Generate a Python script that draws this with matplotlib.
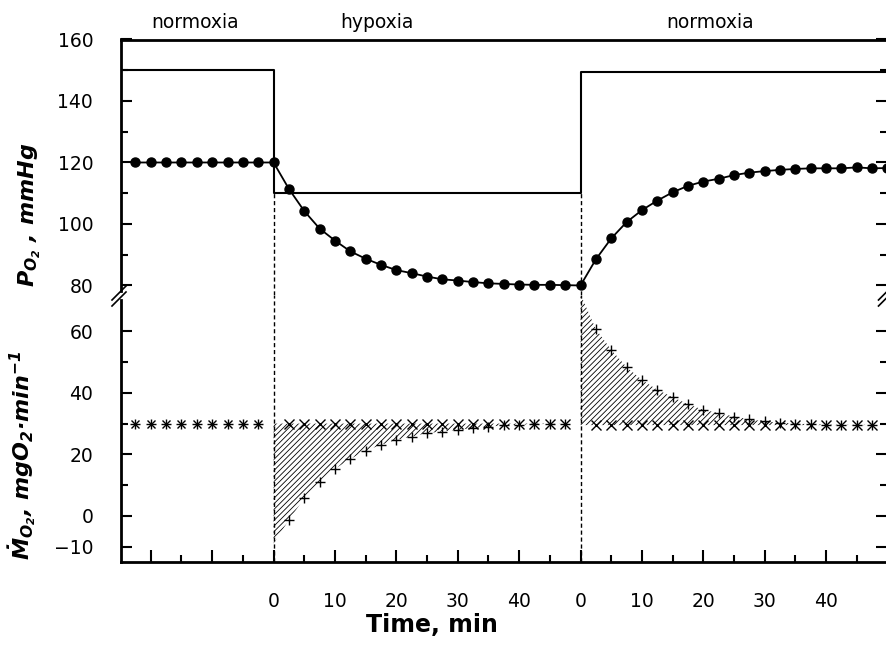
import matplotlib
matplotlib.use("Agg")
import matplotlib.pyplot as plt
import numpy as np
from matplotlib.lines import Line2D
from matplotlib.ticker import FixedLocator, FixedFormatter

# ---------------- data ----------------
phase_names = ["normoxia", "hypoxia", "normoxia"]
phase_label_x = [-12.8, 16.9, 71.1]          # label centres (continuous time axis)
phase_start = [-24.85, 0, 50]                  # start of each phase on the time axis
phase_end = 100
water_po2 = [150, 110, 149.5]                  # ambient PO2 (mmHg) in each phase

# blood PO2 (filled circles)
t_pre = [-22.5, -20, -17.5, -15, -12.5, -10, -7.5, -5, -2.5, 0]
po2_pre = [120, 120, 120, 120, 120, 120, 120, 120, 120, 120]
t_phase = [2.5, 5, 7.5, 10, 12.5, 15, 17.5, 20, 22.5, 25,
           27.5, 30, 32.5, 35, 37.5, 40, 42.5, 45, 47.5, 50]
po2_hyp = [111.4, 104.2, 98.5, 94.6, 91.1, 88.7, 86.7, 85.0, 84.0, 82.9,
           82.0, 81.6, 81.1, 80.7, 80.5, 80.3, 80.2, 80.2, 80.1, 80.0]
po2_rec = [88.5, 95.3, 100.6, 104.5, 107.6, 110.3, 112.4, 113.8, 114.7, 115.9,
           116.7, 117.2, 117.6, 117.9, 118.1, 118.1, 118.1, 118.4, 118.1, 118.2]

# oxygen consumption (+ measured, x routine)
t_mo2_pre = [-22.5, -20, -17.5, -15, -12.5, -10, -7.5, -5, -2.5]
mo2_pre = [30, 30, 30, 30, 30, 30, 30, 30, 30]
t_mo2 = [2.5, 5, 7.5, 10, 12.5, 15, 17.5, 20, 22.5, 25,
         27.5, 30, 32.5, 35, 37.5, 40, 42.5, 45, 47.5]
mo2_hyp_meas = [-1.3, 5.7, 11.0, 15.3, 18.5, 21.2, 23.1, 24.7, 25.8, 26.9,
                27.4, 28.0, 28.5, 29.0, 29.4, 29.6, 29.8, 29.9, 30.0]
mo2_hyp_ref = [30, 30, 30, 30, 30, 30, 30, 30, 30, 30,
               30, 30, 30, 30, 30, 30, 30, 30, 30]
mo2_rec_meas = [60.7, 54.0, 48.4, 44.2, 41.0, 38.6, 36.3, 34.5, 33.4, 32.3,
                31.4, 30.7, 30.3, 30.0, 29.8, 29.7, 29.6, 29.6, 29.6]
mo2_rec_ref = [29.5, 29.5, 29.5, 29.5, 29.5, 29.5, 29.5, 29.5, 29.5, 29.5,
               29.5, 29.5, 29.5, 29.5, 29.5, 29.5, 29.5, 29.5, 29.5]
mo2_hyp_start = -9     # start of measured curve at onset of hypoxia
mo2_rec_start = 72     # start of measured curve at onset of normoxia

po2_yticks = [80, 100, 120, 140, 160]
mo2_yticks = [-10, 0, 20, 40, 60]

# ---------------- style ----------------
plt.rcParams["font.family"] = ["DejaVu Sans"]
plt.rcParams["mathtext.fontset"] = "custom"
plt.rcParams["mathtext.rm"] = "DejaVu Sans:italic:bold"
plt.rcParams["mathtext.it"] = "DejaVu Sans:italic:bold"
plt.rcParams["mathtext.bf"] = "DejaVu Sans:italic:bold"
plt.rcParams["hatch.linewidth"] = 0.6

W_PX, H_PX = 886, 654
fig = plt.figure(figsize=(W_PX / 100, H_PX / 100), dpi=100)

def fx(px):
    return px / W_PX

def fy(py):
    return 1 - py / H_PX

left_px, right_px = 121, 887.5
top_px, brk_px, bot_px = 39.5, 295, 561.7
ax_top = fig.add_axes([fx(left_px), fy(brk_px), fx(right_px - left_px), (brk_px - top_px) / H_PX])
ax_bot = fig.add_axes([fx(left_px), fy(bot_px), fx(right_px - left_px), (bot_px - brk_px) / H_PX])

xlim = (phase_start[0], phase_end)
for ax in (ax_top, ax_bot):
    ax.set_xlim(*xlim)
    ax.patch.set_alpha(0)
ax_top.set_ylim(76.9, 160)
ax_bot.set_ylim(-14.9, 71.8)

# ---------------- top panel: PO2 ----------------
step_x = phase_start + [phase_end]
step_y = water_po2 + [water_po2[-1]]
ax_top.plot(step_x, step_y, drawstyle="steps-post", color="black", lw=1.5)

t_rec_abs = [phase_start[2] + t for t in t_phase]
po2_x = t_pre + t_phase + t_rec_abs
po2_y = po2_pre + po2_hyp + po2_rec
ax_top.plot(po2_x, po2_y, color="black", lw=1.3, marker="o", ms=6.5)

# dashed verticals at phase changes
dash = (0, (3, 2))
ax_top.vlines([phase_start[1], phase_start[2]], 76.9, [water_po2[1], water_po2[1]],
              colors="black", lw=1.0, linestyles=[dash])
ax_bot.vlines([phase_start[1], phase_start[2]], -14.9, 71.8,
              colors="black", lw=1.0, linestyles=[dash])

# ---------------- bottom panel: MO2 ----------------
t_hyp_abs = [phase_start[1] + t for t in t_mo2]
t_rec2_abs = [phase_start[2] + t for t in t_mo2]

ax_bot.fill_between([phase_start[1]] + t_hyp_abs, [mo2_hyp_start] + mo2_hyp_meas,
                    [mo2_hyp_ref[0]] + mo2_hyp_ref, facecolor="none", edgecolor="black",
                    lw=0, hatch="//////")
ax_bot.fill_between([phase_start[2]] + t_rec2_abs, [mo2_rec_start] + mo2_rec_meas,
                    [mo2_rec_ref[0]] + mo2_rec_ref, facecolor="none", edgecolor="black",
                    lw=0, hatch="//////")

mk = dict(ls="none", color="black", ms=7, mew=1.0)
ax_bot.plot(t_mo2_pre, mo2_pre, marker="+", **mk)
ax_bot.plot(t_mo2_pre, mo2_pre, marker="x", ms=5.5, mew=1.0, ls="none", color="black")
ax_bot.plot(t_hyp_abs, mo2_hyp_meas, marker="+", **mk)
ax_bot.plot(t_hyp_abs, mo2_hyp_ref, marker="x", **mk)
ax_bot.plot(t_rec2_abs, mo2_rec_meas, marker="+", **mk)
ax_bot.plot(t_rec2_abs, mo2_rec_ref, marker="x", **mk)

# ---------------- axes styling ----------------
SP = 2.0
ax_top.spines["bottom"].set_visible(False)
ax_bot.spines["top"].set_visible(False)
for ax in (ax_top, ax_bot):
    for s in ("left", "right", "top", "bottom"):
        ax.spines[s].set_linewidth(SP)
    ax.spines["right"].set_visible(False)
ax_top.spines["left"].set_bounds(78.3, 160)
ax_bot.spines["left"].set_bounds(-14.9, 70.3)

TICK_FS = 13.5
# top y axis
ax_top.yaxis.set_major_locator(FixedLocator(po2_yticks))
ax_top.yaxis.set_major_formatter(FixedFormatter([str(v) for v in po2_yticks]))
ax_top.yaxis.set_minor_locator(FixedLocator([90, 110, 130, 150]))
ax_top.tick_params(axis="y", which="both", direction="in", left=True, right=True,
                   labelsize=TICK_FS, pad=20, width=1.5)
ax_top.tick_params(axis="y", which="major", length=8)
ax_top.tick_params(axis="y", which="minor", length=5)
ax_top.tick_params(axis="x", which="both", bottom=False, top=False, labelbottom=False)

# bottom y axis
ax_bot.yaxis.set_major_locator(FixedLocator(mo2_yticks))
ax_bot.yaxis.set_major_formatter(FixedFormatter([str(v).replace("-", "\u2212") for v in mo2_yticks]))
ax_bot.yaxis.set_minor_locator(FixedLocator([10, 30, 50]))
ax_bot.tick_params(axis="y", which="both", direction="in", left=True, right=True,
                   labelsize=TICK_FS, pad=20, width=1.5)
ax_bot.tick_params(axis="y", which="major", length=8)
ax_bot.tick_params(axis="y", which="minor", length=5)

# bottom x axis
xmaj = list(np.arange(-20, 100, 10))
xlab = []
for v in xmaj:
    if v < phase_start[1]:
        xlab.append("")
    elif v < phase_start[2]:
        xlab.append(str(int(v - phase_start[1])))
    else:
        xlab.append(str(int(v - phase_start[2])))
ax_bot.xaxis.set_major_locator(FixedLocator(xmaj))
ax_bot.xaxis.set_major_formatter(FixedFormatter(xlab))
ax_bot.xaxis.set_minor_locator(FixedLocator(list(np.arange(-15, 100, 10))))
ax_bot.tick_params(axis="x", which="both", direction="in", bottom=True, top=False,
                   labelsize=TICK_FS, pad=22, width=1.5)
ax_bot.tick_params(axis="x", which="major", length=8.5)
ax_bot.tick_params(axis="x", which="minor", length=5)

# phase labels
for name, x in zip(phase_names, phase_label_x):
    ax_top.annotate(name, xy=(x, 1), xycoords=ax_top.get_xaxis_transform(),
                    xytext=(0, 12.5), textcoords="offset points",
                    ha="center", va="center", fontsize=13.5)

# axis labels
fig.text(fx(30), fy(215), r"$P_{O_2}$ , mmHg", rotation=90, ha="center", va="center",
         fontsize=16, fontweight="bold", fontstyle="italic")
fig.text(fx(22), fy(455), r"$\dot{M}_{O_2}$, mgO$_2$·min$^{-1}$", rotation=90,
         ha="center", va="center", fontsize=16, fontweight="bold", fontstyle="italic")
fig.text(fx(432), fy(625), "Time, min", ha="center", va="center",
         fontsize=17, fontweight="bold")

# axis-break marks
for cx in (left_px, right_px):
    for dy in (0, 6):
        fig.add_artist(Line2D([fx(cx - 9), fx(cx + 5)], [fy(303 + dy - 3), fy(289 + dy - 3)],
                              color="black", lw=1.2, transform=fig.transFigure))

fig.savefig("out.png", dpi=100)
